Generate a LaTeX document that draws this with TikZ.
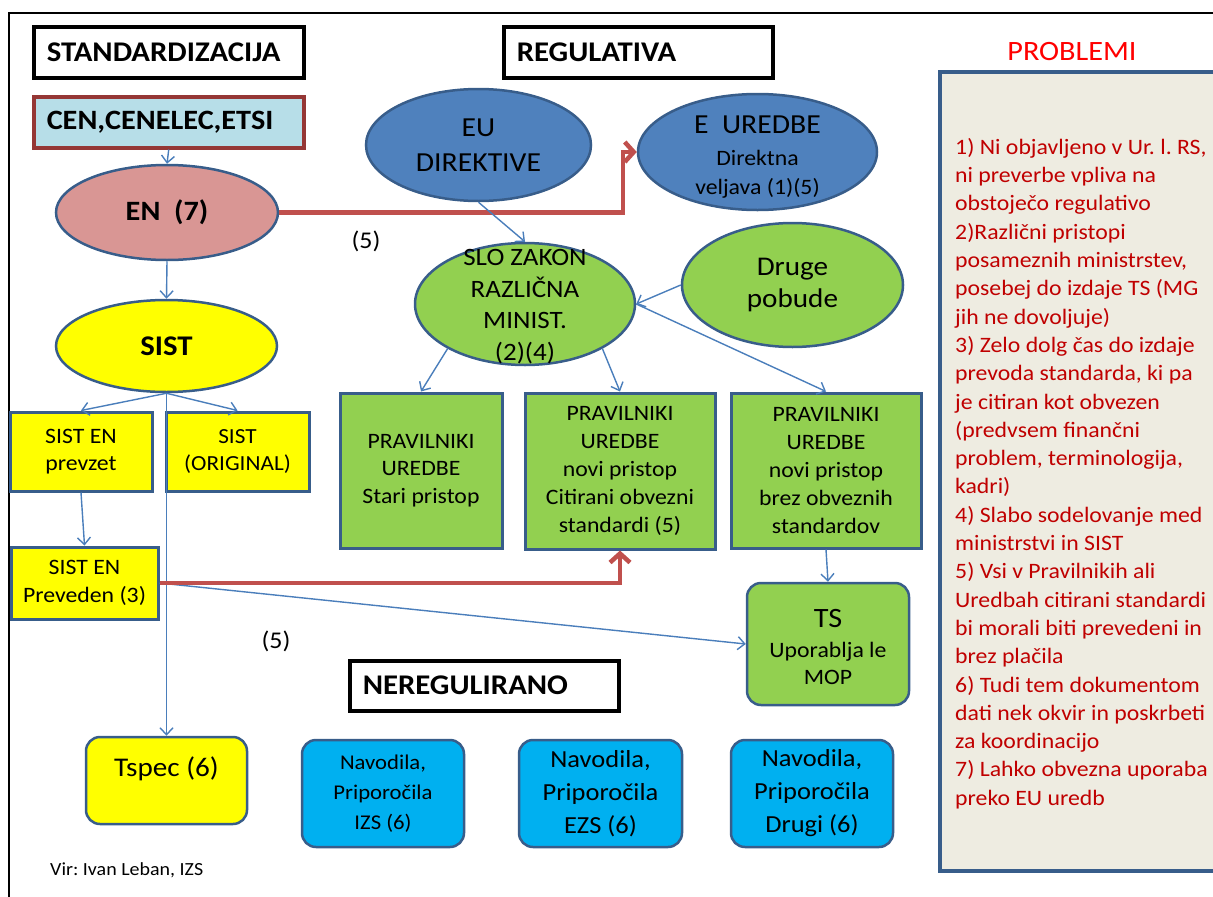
\documentclass[tikz,border=0pt]{standalone}
\usepackage{fontspec}
\setmainfont{Carlito}[FakeStretch=1.08]
\usetikzlibrary{shapes.geometric,arrows.meta}

\definecolor{lnblue}{HTML}{4A7EBB}
\definecolor{bdblue}{HTML}{385D8A}
\definecolor{enpink}{HTML}{D99694}
\definecolor{eublue}{HTML}{4F81BD}
\definecolor{grn}{HTML}{92D050}
\definecolor{yel}{HTML}{FFFF00}
\definecolor{cyanb}{HTML}{00B0F0}
\definecolor{ltblue}{HTML}{B7DEE8}
\definecolor{dkred}{HTML}{953735}
\definecolor{redarr}{HTML}{C0504D}
\definecolor{probtxt}{HTML}{C00000}
\definecolor{probfill}{HTML}{EEECE1}

\newcommand{\fs}[2]{\fontsize{#1}{#2}\selectfont}
\frenchspacing

\begin{document}
\begin{tikzpicture}[x=1pt,y=-1pt,
  conn/.style={draw=lnblue, line width=1.4pt, -{Straight Barb[length=7pt,width=13pt]}},
  redconn/.style={draw=redarr, line width=4.5pt, -{Straight Barb[length=9pt,width=20pt]}},
  titlebox/.style={draw=black, line width=3.5pt, fill=white, anchor=north west,
    minimum height=51pt, inner xsep=13pt, inner ysep=0pt, align=left, font=\bfseries\fs{28.5}{35}},
  ell/.style={ellipse, draw=bdblue, line width=2.5pt, inner sep=0pt},
  sqbox/.style={rectangle, draw=bdblue, line width=3pt, inner sep=0pt, align=center},
  rbox/.style={rectangle, rounded corners=14pt, draw=bdblue, line width=2.5pt, inner sep=0pt, align=center},
  txt/.style={inner sep=0pt, align=center},
  lbl/.style={inner sep=0pt, font=\fs{24}{28}}
]
\useasboundingbox (0,0) rectangle (1213,897);

% outer frame
\draw[line width=2pt] (9,897) -- (9,13) -- (1213,13);

% titles
\node[titlebox, text width=244pt] (std) at (32,25) {STANDARDIZACIJA};
\node[titlebox, text width=243pt] (reg) at (502,25) {REGULATIVA};
\node[titlebox, text width=243pt, minimum height=50pt] (nereg) at (348,659) {NEREGULIRANO};
\node[titlebox, text width=244pt, fill=ltblue, draw=dkred, font=\bfseries\fs{28}{34}] (cen) at (32,95) {CEN,CENELEC,ETSI};

% left column
\node[ell, fill=enpink, minimum width=222pt, minimum height=95pt, font=\bfseries\fs{28}{34}] (en) at (167,212.5) {EN\ \ (7)};
\node[ell, fill=yel, minimum width=221pt, minimum height=92pt, font=\bfseries\fs{28.5}{32}] (sist) at (166.5,346) {SIST};
\node[sqbox, fill=yel, minimum width=142pt, minimum height=79pt, font=\fs{22}{27}] (sisten) at (81,451.5) {SIST EN\\prevzet};
\node[sqbox, fill=yel, minimum width=143pt, minimum height=79pt, font=\fs{21.5}{27}] (sistorig) at (237.5,451.5) {SIST\\(ORIGINAL)};
\node[sqbox, fill=yel, minimum width=147pt, minimum height=72pt, font=\fs{22}{28}] (prev) at (84.5,583) {SIST EN\\Preveden (3)};
\node[rbox, fill=yel, minimum width=161pt, minimum height=87pt] (tspec) at (166.5,780.5) {};
\node[txt, font=\fs{27}{32}] (tspect) at (166.5,769) {Tspec (6)};

% regulation
\node[ell, fill=eublue, minimum width=225pt, minimum height=112pt, font=\fs{27.5}{35}, align=center] (eudir) at (478.5,145) {EU\\DIREKTIVE};
\node[ell, fill=eublue, minimum width=239pt, minimum height=116pt] (eured) at (757.5,152) {};
\node[txt, font=\fs{22}{29}] (euredt) at (757.5,157) {{\fs{27.5}{29}E\ \ UREDBE}\\[3pt]Direktna\\veljava (1)(5)};
\node[ell, fill=grn, minimum width=220pt, minimum height=122pt] (slo) at (525,304) {};
\node[txt, font=\fs{25}{31.5}] (slot) at (525,306.5) {SLO ZAKON\\RAZLIČNA\\MINIST.\\(2)(4)};
\node[ell, fill=grn, minimum width=221pt, minimum height=124pt, font=\fs{27}{32}, align=center] (druge) at (792.5,285) {Druge\\pobude};

\node[sqbox, fill=grn, minimum width=162pt, minimum height=155pt, font=\fs{22}{27.5}] (prav1) at (421,470.5) {PRAVILNIKI\\UREDBE\\Stari pristop};
\node[sqbox, fill=grn, minimum width=190pt, minimum height=156pt, font=\fs{22}{28}] (prav2) at (620,471) {PRAVILNIKI\\UREDBE\\novi pristop\\Citirani obvezni\\standardi (5)};
\node[sqbox, fill=grn, minimum width=190pt, minimum height=155pt, font=\fs{22}{28}] (prav3) at (826,470.5) {PRAVILNIKI\\UREDBE\\novi pristop\\brez obveznih\\standardov};
\node[rbox, fill=grn, minimum width=162pt, minimum height=122pt] (ts) at (828,644) {};
\node[txt, font=\fs{22}{27.5}] (tst) at (828,647) {{\fs{28}{30}TS}\\[2pt]Uporablja le\\MOP};

% bottom row
\node[rbox, fill=cyanb, minimum width=162pt, minimum height=107pt, font=\fs{21}{30}] (nav1) at (383,793.5) {Navodila,\\Priporočila\\IZS (6)};
\node[rbox, fill=cyanb, minimum width=163pt, minimum height=107pt, font=\fs{24.5}{33}] (nav2) at (600.5,793.5) {Navodila,\\Priporočila\\EZS (6)};
\node[rbox, fill=cyanb, minimum width=162pt, minimum height=107pt, font=\fs{24.5}{33}] (nav3) at (812,793.5) {Navodila,\\Priporočila\\Drugi (6)};

% labels
\node[lbl] (l5a) at (366,241) {(5)};
\node[lbl] (l5b) at (276,641) {(5)};
\node[inner sep=0pt, anchor=west, font=\fs{18.5}{22}] (vir) at (50,870) {Vir: Ivan Leban, IZS};

% problems
\node[txt, text=red, font=\fs{28}{32}] (probt) at (1072,52) {PROBLEMI};
\node[rectangle, draw=bdblue, line width=3.5pt, fill=probfill, minimum width=282pt, minimum height=799pt, inner sep=0pt] (pbox) at (1081,471.5) {};
\node[inner sep=0pt, anchor=north west, align=left, text=probtxt, font=\fs{22}{28.3}] (ptext) at (955,138) {%
1) Ni objavljeno v Ur. l. RS,\\
ni preverbe vpliva na\\
obstoječo regulativo\\
2)Različni pristopi\\
posameznih ministrstev,\\
posebej do izdaje TS (MG\\
jih ne dovoljuje)\\
3) Zelo dolg čas do izdaje\\
prevoda standarda, ki pa\\
je citiran kot obvezen\\
(predvsem finančni\\
problem, terminologija,\\
kadri)\\
4) Slabo sodelovanje med\\
ministrstvi in SIST\\
5) Vsi v Pravilnikih ali\\
Uredbah citirani standardi\\
bi morali biti prevedeni in\\
brez plačila\\
6) Tudi tem dokumentom\\
dati nek okvir in poskrbeti\\
za koordinacijo\\
7) Lahko obvezna uporaba\\
preko EU uredb};

% connectors
\coordinate (k1) at (623,0);
\draw[conn] (cen.south) -- (en.north);
\draw[conn] (en.south) -- (sist.north);
\draw[conn] (sist.south) -- (sisten.north);
\draw[conn] (sist.south) -- (sistorig.north);
\draw[conn] (sist.south) -- (tspec.north);
\draw[conn] (sisten.south) -- (prev.north);
\draw[conn] (prev.east) -- (ts.west);
\draw[redconn] (prev.east) -| (prav2.south);
\draw[redconn] (en.east) -- (en.east -| k1) -- (k1 |- eured.west) -- (eured.west);
\draw[conn] (eudir.south) -- (slo.north);
\draw[conn] (druge.west) -- (slo.east);
\draw[conn] (slo.210) -- (prav1.north);
\draw[conn] (slo.330) -- (prav2.north);
\draw[conn] (slo.east) -- (prav3.north);
\draw[conn] (prav3.south) -- (ts.north);
\end{tikzpicture}
\end{document}
